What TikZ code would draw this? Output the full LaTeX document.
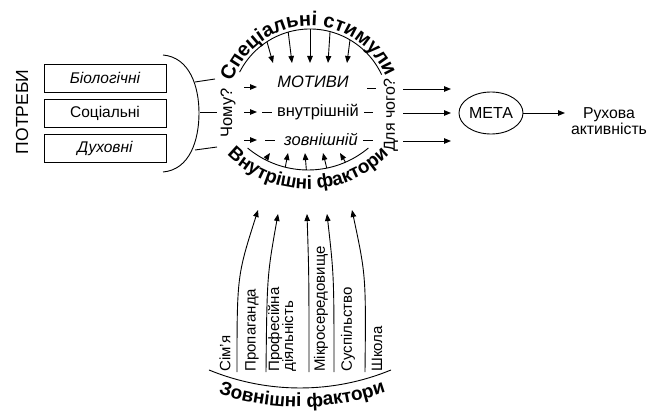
\documentclass[tikz,border=0pt]{standalone}
\usepackage{fontspec}
\setmainfont{Liberation Sans}
\usetikzlibrary{arrows.meta,decorations.text,shapes.geometric}
\begin{document}
\begin{tikzpicture}[x=1pt,y=1pt,line width=0.9pt,
  arr/.style={-{Triangle[length=7pt,width=5.5pt]}},
  txt/.style={inner sep=0pt,font=\fontsize{15}{17}\selectfont},
  inner/.style={inner sep=0pt,font=\fontsize{16.5}{18}\selectfont},
  box/.style={draw,minimum width=122pt,minimum height=28pt,inner sep=0pt,font=\fontsize{15.5}{17}\selectfont},
  vlab/.style={rotate=90,anchor=west,inner sep=0pt,align=left,font=\fontsize{15}{14}\selectfont}]
\useasboundingbox (0,0) rectangle (648,416);
% centres of arcs
\coordinate (tc) at (310,308);
\coordinate (bc) at (308,340);
\coordinate (oc) at (300,267);
% left part
\node[txt,rotate=90,font=\fontsize{17.5}{19}\selectfont] (potr) at (22,304) {ПОТРЕБИ};
\node[box,font=\fontsize{15.5}{17}\selectfont\itshape] (bio) at (105,338) {Біологічні};
\node[box] (soc) at (105,303) {Соціальні};
\node[box,font=\fontsize{15.5}{17}\selectfont\itshape] (dukh) at (105,268) {Духовні};
\coordinate (brT) at (163,361);
\coordinate (brR) at (199,303);
\coordinate (brB) at (163,244);
\draw (brT) to[out=-5,in=90] (brR) to[out=-90,in=5] (brB);
\coordinate (l1a) at (195,334); \coordinate (l1b) at (215,337);
\coordinate (l2a) at (200,304); \coordinate (l2b) at (217,304);
\coordinate (l3a) at (195,266); \coordinate (l3b) at (217,269);
\draw (l1a) -- (l1b); \draw (l2a) -- (l2b); \draw (l3a) -- (l3b);
\node[txt,rotate=90,font=\fontsize{16.5}{18}\selectfont] (chomu) at (228,303) {Чому?};
% top arc
\draw ([shift={(153:79)}]tc) arc[start angle=153,end angle=25,radius=79];
\path[decorate,decoration={text along path,text align=center,
  text={|\fontsize{20}{20}\selectfont\bfseries|Спеціальні стимули}}]
  ([shift={(158:82)}]tc) arc[start angle=158,end angle=26,radius=82];
\foreach \a/\x in {123/273,106/292,90/310,75.3/328,59.6/347}{
  \coordinate (ts) at ([shift={(\a:79)}]tc);
  \coordinate (te) at (\x,353);
  \draw[arr] (ts) -- (te);}
% bottom arc
\draw ([shift={(230:94)}]bc) arc[start angle=230,end angle=310,radius=94];
\path[decorate,decoration={text along path,text align=center,
  text={|\fontsize{19}{19}\selectfont\bfseries|Внутрішні фактори}}]
  ([shift={(224:113)}]bc) arc[start angle=224,end angle=316,radius=113];
\foreach \a/\x in {243/270,256/288,269/305,281.5/323,293.5/340}{
  \coordinate (bs) at ([shift={(\a:94)}]bc);
  \coordinate (be) at (\x,263);
  \draw[arr] (bs) -- (be);}
% inner rows
\node[inner,font=\fontsize{16.5}{18}\selectfont\itshape] (motyvy) at (313,334) {МОТИВИ};
\node[inner,anchor=base] (vnutr) at (318,299) {внутрішній};
\node[inner,anchor=base,font=\fontsize{16.5}{18}\selectfont\itshape] (zovn) at (321,271) {зовнішній};
\coordinate (a1s) at (244,329); \coordinate (a1e) at (257,329);
\coordinate (a2s) at (244,304); \coordinate (a2e) at (257,304);
\coordinate (a3s) at (244,276); \coordinate (a3e) at (257,276);
\draw[arr] (a1s) -- (a1e); \draw[arr] (a2s) -- (a2e); \draw[arr] (a3s) -- (a3e);
\coordinate (d1a) at (367,328); \coordinate (d1b) at (376,328);
\coordinate (d2a) at (262,304); \coordinate (d2b) at (272,304);
\coordinate (d3a) at (364,304); \coordinate (d3b) at (373,304);
\coordinate (d4a) at (265,276); \coordinate (d4b) at (275,276);
\coordinate (d5a) at (363,276); \coordinate (d5b) at (373,276);
\draw (d1a) -- (d1b); \draw (d2a) -- (d2b); \draw (d3a) -- (d3b);
\draw (d4a) -- (d4b); \draw (d5a) -- (d5b);
\node[txt,rotate=90,font=\fontsize{16}{17}\selectfont] (dlya) at (391,301) {Для чого?};
% right part
\node[draw,ellipse,minimum width=64pt,minimum height=42pt,inner sep=0pt,
  font=\fontsize{16}{17}\selectfont] (meta) at (491,303) {МЕТА};
\coordinate (r1s) at (403,327); \coordinate (r1e) at (451,327);
\coordinate (r2s) at (403,303); \coordinate (r2e) at (451,303);
\coordinate (r3s) at (403,275); \coordinate (r3e) at (451,275);
\draw[arr] (r1s) -- (r1e); \draw[arr] (r2s) -- (r2e); \draw[arr] (r3s) -- (r3e);
\node[txt,align=center,font=\fontsize{15.8}{15.5}\selectfont] (rukh) at (609,295) {Рухова\\активність};
\coordinate (mEnd) at (565,303);
\draw[arr] (meta.east) -- (mEnd);
% bottom part
\node[vlab] (s1) at (225,44) {Сім'я};
\node[vlab] (s2) at (252,44) {Пропаганда};
\node[vlab] (s3) at (282,44) {Професійна\\діяльність};
\node[vlab] (s4) at (321,44) {Мікросередовище};
\node[vlab] (s5) at (348,44) {Суспільство};
\node[vlab] (s6) at (377,44) {Школа};
\foreach \xs/\xc/\xe/\ye in {237/237/258/206,266/267/278/202,309/309/307/202,334/334/327/202,365/366/352/206}{
  \coordinate (ss) at (\xs,44);
  \coordinate (sc) at (\xc,140);
  \coordinate (se) at (\xe,\ye);
  \draw[arr] (ss) .. controls (sc) .. (se);}
\draw ([shift={(247.6:239)}]oc) arc[start angle=247.6,end angle=292.4,radius=239];
\path[decorate,decoration={text along path,text align=center,
  text={|\fontsize{19}{19}\selectfont\bfseries|Зовнішні фактори}}]
  ([shift={(249:258)}]oc) arc[start angle=249,end angle=292,radius=258];
\end{tikzpicture}
\end{document}
